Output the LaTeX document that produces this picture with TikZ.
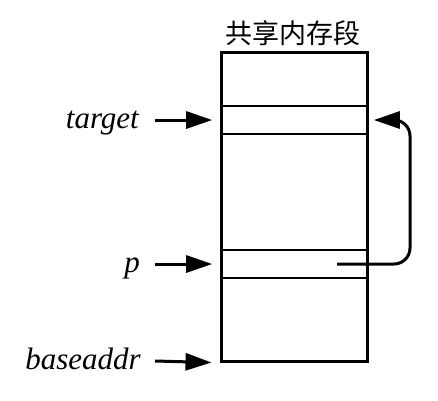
\documentclass[tikz,border=0pt]{standalone}
\usepackage{fontspec}
\setmainfont{Liberation Serif}
\newfontfamily\cjk{Noto Sans CJK SC}
\usetikzlibrary{arrows.meta}
\begin{document}
\begin{tikzpicture}[x=1pt,y=-1pt,
  box/.style={draw,line width=3pt,minimum width=146pt,minimum height=309pt,inner sep=0pt},
  slot/.style={draw,line width=1.6pt,minimum width=146pt,minimum height=28pt,inner sep=0pt},
  lbl/.style={font=\fontsize{31}{36}\selectfont\itshape,inner sep=0pt,anchor=base east},
  arr/.style={line width=3pt,-{Triangle[length=26pt,width=17pt]}}]
\useasboundingbox (0,0) rectangle (438,400);
\node[font=\cjk\fontsize{27}{30}\selectfont,inner sep=0pt] (title) at (293,33) {共享内存段};
\node[slot] (tslot) at (294,120) {};
\node[slot] (pslot) at (294,264) {};
\node[box] (mem) at (294,206.5) {};
\node[lbl] (tl) at (139,128) {target};
\node[lbl] (pl) at (140,272) {p};
\node[lbl] (bl) at (141,369) {baseaddr};
\coordinate (ts) at (155,120);
\coordinate (ps) at (155,264);
\coordinate (bs) at (155,361);
\coordinate (cs) at (337,264);
\coordinate (cc) at (410,120);
\draw[arr] (ts) -- ([xshift=-8pt]tslot.west);
\draw[arr] (ps) -- ([xshift=-8pt]pslot.west);
\draw[arr] (bs) -- ([xshift=-8pt]mem.south west);
\draw[arr,rounded corners=16pt] (cs) -| (cc) -- ([xshift=6pt]tslot.east);
\end{tikzpicture}
\end{document}
